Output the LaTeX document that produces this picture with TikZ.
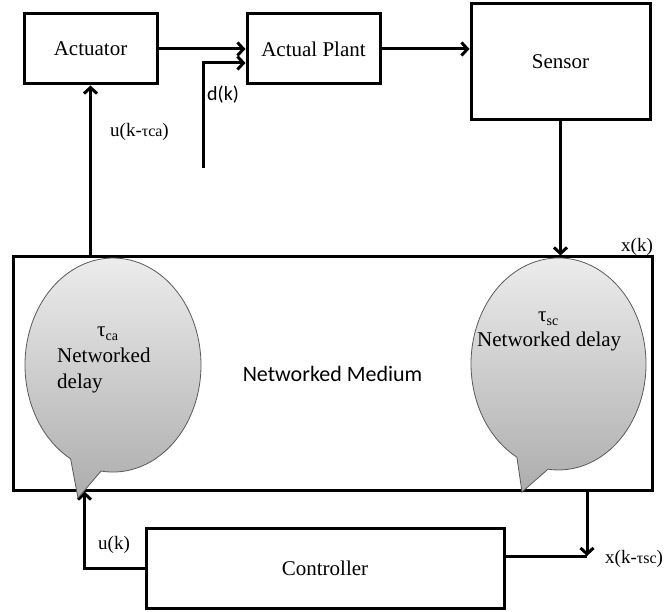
\documentclass[tikz,border=0pt]{standalone}
\usepackage{fontspec}
\setmainfont{Liberation Serif}
\newfontfamily\calib{Carlito}
\usetikzlibrary{arrows.meta,calc}
\definecolor{bubtop}{HTML}{F0F0F0}
\definecolor{bubbot}{HTML}{ADADAD}
\definecolor{bubedge}{HTML}{5A5A5A}
\begin{document}
\begin{tikzpicture}[x=1pt,y=-1pt,
 blk/.style={draw, line width=3pt, inner sep=0pt, font=\fontsize{21}{24}\selectfont},
 arr/.style={line width=3pt, line join=miter, -{Straight Barb[length=6pt,width=13pt]}},
 ln/.style={line width=3pt},
 lbl/.style={inner sep=0pt, anchor=base west, font=\fontsize{19}{22}\selectfont},
 bubtxt/.style={inner sep=0pt, anchor=base west, font=\fontsize{21}{24}\selectfont},
 bubble/.style={top color=bubtop, bottom color=bubbot, draw=bubedge, line width=0.8pt, line join=miter},
]
\useasboundingbox (0,0) rectangle (672,612);

% blocks
\node[blk, minimum width=133pt, minimum height=70pt] (act) at (90.5,49) {Actuator};
\node[blk, minimum width=133pt, minimum height=70pt] (plant) at (313.5,49) {Actual Plant};
\node[blk, minimum width=179pt, minimum height=116pt] (sens) at (560.5,62) {Sensor};
\node[blk, minimum width=639pt, minimum height=233pt, font=\calib\fontsize{22}{24}\selectfont] (net) at (332.5,373.5) {Networked Medium};
\node[blk, minimum width=358pt, minimum height=80pt] (ctrl) at (325,568) {Controller};

% connectors
\draw[arr] (act.east) -- (plant.west);
\draw[arr] (plant.east) -- (plant.east -| sens.west);
\coordinate (dk) at (203,168);
\draw[arr] (dk) |- ($(plant.west)+(0,14)$);
\draw[arr] (act.south |- net.north) -- (act.south);
\draw[arr] (sens.south) -- (sens.south |- net.north);
\draw[arr] (ctrl.west) -| ($(net.south west)+(73,0)$);
\coordinate (xj) at (587,556);
\draw[arr] (xj |- net.south) -- (xj);
\draw[ln] (ctrl.east |- xj) -- (xj);

% left bubble (ellipse + tail as one outline)
\shade[bubble] (70.6,458.8) arc[start angle=118.8, end angle=457.8, x radius=88, y radius=107]
  -- (78,498) -- cycle;
% right bubble
\shade[bubble] (516.9,457.2) arc[start angle=118.4, end angle=456.9, x radius=87.5, y radius=106]
  -- (522,492) -- cycle;

% bubble texts
\node[bubtxt] (tca) at (97,337) {τ\raisebox{-4pt}{\fontsize{14}{14}\selectfont ca}};
\node[bubtxt] (nd1) at (57,362) {Networked};
\node[bubtxt] (nd2) at (57,388) {delay};
\node[bubtxt] (tsc) at (538,322) {τ\raisebox{-4pt}{\fontsize{14}{14}\selectfont sc}};
\node[bubtxt] (nd3) at (477,346) {Networked delay};

% labels
\node[lbl] (lu) at (110,137) {u(k-{\fontsize{16}{16}\selectfont τca})};
\node[lbl, font=\calib\fontsize{20}{22}\selectfont] (ld) at (207,101) {d(k)};
\node[lbl] (lx) at (621,252) {x(k)};
\node[lbl] (luk) at (98,549) {u(k)};
\node[lbl] (lxs) at (605,563) {x(k-{\fontsize{16}{16}\selectfont τsc})};
\end{tikzpicture}
\end{document}
